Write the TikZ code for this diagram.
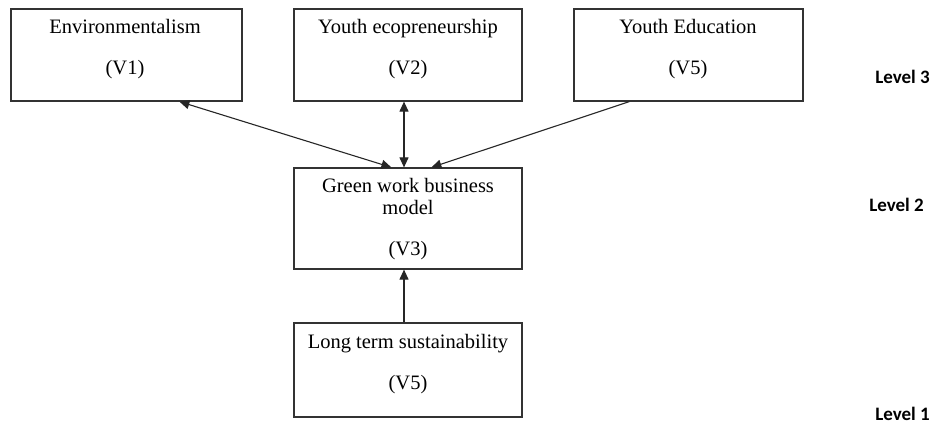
\documentclass[tikz,border=0pt]{standalone}
\usepackage{fontspec}
\setmainfont{Liberation Serif}
\newfontfamily\levelfont{Carlito}
\usetikzlibrary{arrows.meta}
\begin{document}
\begin{tikzpicture}[x=1pt,y=-1pt,
  boxstyle/.style={draw=black!80,line width=1.2pt,rectangle,inner sep=0pt},
  txt/.style={anchor=base,inner sep=0pt,font=\fontsize{20.5}{22}\selectfont},
  lvl/.style={anchor=base east,inner sep=0pt,font=\levelfont\bfseries\fontsize{19}{21}\selectfont},
  link/.style={draw=black!85,line width=1.1pt},
  tip/.style={-{Triangle[length=10pt,width=9pt]}},
  bothtips/.style={{Triangle[length=10pt,width=9pt]}-{Triangle[length=10pt,width=9pt]}}]
\useasboundingbox (0,0) rectangle (932,423);

% level 3 boxes
\node[boxstyle,minimum width=231pt,minimum height=92pt] (b1) at (126.5,55) {};
\node[boxstyle,minimum width=228pt,minimum height=92pt] (b2) at (408,55) {};
\node[boxstyle,minimum width=229pt,minimum height=92pt] (b3) at (688.5,55) {};
% level 2 box
\node[boxstyle,minimum width=228pt,minimum height=101pt] (b4) at (408,218.5) {};
% level 1 box
\node[boxstyle,minimum width=228pt,minimum height=94pt] (b5) at (408,370) {};

% box texts
\node[txt] (t1a) at (125,33) {Environmentalism};
\node[txt] (t1b) at (125,74) {(V1)};
\node[txt] (t2a) at (408,33) {Youth ecopreneurship};
\node[txt] (t2b) at (408,74) {(V2)};
\node[txt] (t3a) at (688,33) {Youth Education};
\node[txt] (t3b) at (688,74) {(V5)};
\node[txt] (t4a) at (408,192) {Green work business};
\node[txt] (t4b) at (408,214) {model};
\node[txt] (t4c) at (408,255) {(V3)};
\node[txt] (t5a) at (408,348) {Long term sustainability};
\node[txt] (t5b) at (408,389) {(V5)};

% level labels
\node[lvl] (l3) at (930,83) {Level 3};
\node[lvl] (l2) at (924,211) {Level 2};
\node[lvl] (l1) at (930,420) {Level 1};

% connectors
\draw[link,bothtips] ([xshift=169pt]b1.south west) -- ([xshift=98pt]b4.north west);
\draw[link,bothtips] ([xshift=-4pt]b2.south) -- ([xshift=-4pt]b4.north);
\draw[link,tip] ([xshift=56pt]b3.south west) -- ([xshift=138pt]b4.north west);
\draw[link,tip] ([xshift=-4pt]b5.north) -- ([xshift=-4pt]b4.south);
\end{tikzpicture}
\end{document}
